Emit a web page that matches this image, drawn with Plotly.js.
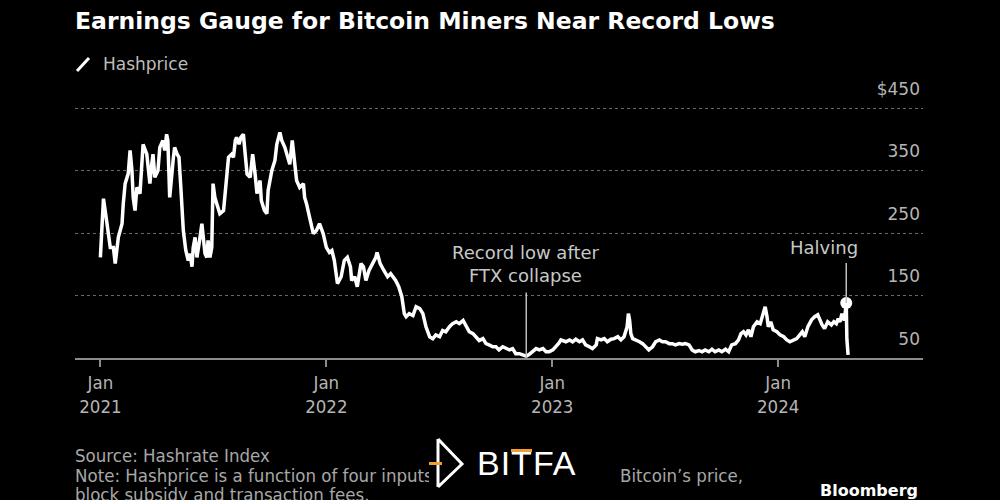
<!DOCTYPE html>
<html>
<head>
<meta charset="utf-8">
<script src="https://cdn.plot.ly/plotly-3.0.1.min.js"></script>
<style>
  html, body { margin: 0; padding: 0; background: #000; }
  #chart { width: 1000px; height: 500px; position: absolute; left: 0; top: 0; }
  #wm { position: absolute; left: 429px; top: 437px; width: 189px; height: 52px; background: #000; }
</style>
</head>
<body>
<div id="chart"></div>
<div id="wm">
  <svg width="189" height="52" xmlns="http://www.w3.org/2000/svg">
    <path d="M9,2 L9,50 M9,2 L33,27 L9,50" stroke="#fff" stroke-width="3" fill="none" stroke-linejoin="miter"/>
    <rect x="0" y="25" width="13" height="3" fill="#f0a030"/>
    <text x="48" y="38" fill="#fff" font-family="Liberation Sans, Arial, sans-serif" font-size="34" letter-spacing="1">BITFA</text>
    <rect x="82" y="12" width="21" height="3" fill="#f0a030"/>
  </svg>
</div>
<script>
const dates = [
 '2021-01-01','2021-01-03','2021-01-06','2021-01-11','2021-01-17','2021-01-22','2021-01-25','2021-01-30',
 '2021-02-05','2021-02-07','2021-02-10','2021-02-15','2021-02-18','2021-02-21','2021-02-23','2021-02-26',
 '2021-03-01','2021-03-06','2021-03-09','2021-03-11','2021-03-17','2021-03-22','2021-03-25','2021-03-27','2021-03-30',
 '2021-04-04','2021-04-07','2021-04-12','2021-04-15','2021-04-18','2021-04-20','2021-04-23','2021-04-29',
 '2021-05-01','2021-05-05','2021-05-08','2021-05-11','2021-05-15','2021-05-19','2021-05-23','2021-05-26','2021-05-29','2021-05-31',
 '2021-06-03','2021-06-06','2021-06-08','2021-06-11','2021-06-14','2021-06-16','2021-06-19','2021-06-22','2021-06-24','2021-06-27','2021-06-30',
 '2021-07-02','2021-07-05','2021-07-08','2021-07-13','2021-07-19','2021-07-21','2021-07-24','2021-07-27',
 '2021-08-01','2021-08-04','2021-08-07','2021-08-09','2021-08-13','2021-08-16','2021-08-20','2021-08-23','2021-08-26','2021-08-31',
 '2021-09-04','2021-09-08','2021-09-11','2021-09-16','2021-09-18','2021-09-23','2021-09-27','2021-09-29',
 '2021-10-05','2021-10-10','2021-10-13','2021-10-18','2021-10-21','2021-10-26','2021-10-31',
 '2021-11-03','2021-11-07','2021-11-11','2021-11-14','2021-11-19','2021-11-25','2021-11-27','2021-11-30',
 '2021-12-05','2021-12-11','2021-12-16','2021-12-21','2021-12-27',
 '2022-01-01','2022-01-06','2022-01-10','2022-01-14','2022-01-19','2022-01-25','2022-01-30',
 '2022-02-04','2022-02-09','2022-02-11','2022-02-16','2022-02-20','2022-02-26',
 '2022-03-02','2022-03-06','2022-03-11','2022-03-16','2022-03-22','2022-03-24','2022-03-29',
 '2022-04-04','2022-04-10','2022-04-15','2022-04-23','2022-04-28',
 '2022-05-03','2022-05-07','2022-05-10','2022-05-15','2022-05-21','2022-05-26',
 '2022-06-01','2022-06-06','2022-06-11','2022-06-17','2022-06-22','2022-06-27',
 '2022-07-03','2022-07-08','2022-07-13','2022-07-19','2022-07-24','2022-07-30',
 '2022-08-04','2022-08-10','2022-08-15','2022-08-20','2022-08-26','2022-08-31',
 '2022-09-05','2022-09-11','2022-09-16','2022-09-21','2022-09-27',
 '2022-10-02','2022-10-07','2022-10-13','2022-10-18','2022-10-24','2022-10-29',
 '2022-11-03','2022-11-09','2022-11-14','2022-11-20','2022-11-25',
 '2022-12-01','2022-12-06','2022-12-11','2022-12-17','2022-12-22','2022-12-27',
 '2023-01-02','2023-01-07','2023-01-12','2023-01-15','2023-01-23','2023-01-29',
 '2023-02-03','2023-02-08','2023-02-14','2023-02-19','2023-02-24',
 '2023-03-02','2023-03-07','2023-03-13','2023-03-15','2023-03-21','2023-03-26','2023-03-31',
 '2023-04-06','2023-04-11','2023-04-17','2023-04-22','2023-04-27',
 '2023-05-02','2023-05-04','2023-05-06','2023-05-08','2023-05-11','2023-05-16','2023-05-22','2023-05-27',
 '2023-06-01','2023-06-06','2023-06-12','2023-06-17','2023-06-23','2023-06-28',
 '2023-07-03','2023-07-09','2023-07-14','2023-07-19','2023-07-25','2023-07-30',
 '2023-08-04','2023-08-10','2023-08-15','2023-08-20','2023-08-26','2023-08-31',
 '2023-09-05','2023-09-11','2023-09-16','2023-09-21','2023-09-27',
 '2023-10-02','2023-10-08','2023-10-13','2023-10-18','2023-10-24','2023-10-29',
 '2023-11-02','2023-11-06','2023-11-10','2023-11-14','2023-11-18','2023-11-22','2023-11-28',
 '2023-12-03','2023-12-07','2023-12-11','2023-12-14','2023-12-16','2023-12-20','2023-12-24','2023-12-30',
 '2024-01-04','2024-01-10','2024-01-15','2024-01-20','2024-01-26','2024-01-31',
 '2024-02-05','2024-02-09','2024-02-13','2024-02-18','2024-02-24','2024-02-29',
 '2024-03-05','2024-03-08','2024-03-12','2024-03-16','2024-03-21','2024-03-27','2024-03-31',
 '2024-04-04','2024-04-07','2024-04-10','2024-04-13','2024-04-17','2024-04-20','2024-04-21','2024-04-23'
];
const hashprice = [
 211,249,305,270,227,227,201,243,
 265,297,329,345,382,350,307,286,
 323,313,360,392,376,329,360,376,339,
 350,387,398,382,408,398,307,371,
 387,376,371,323,254,222,206,217,196,227,
 243,211,222,243,265,243,217,211,238,211,227,
 329,307,297,281,286,307,350,371,
 376,371,398,403,392,403,408,371,344,339,
 376,344,313,334,302,286,281,318,
 350,366,392,411,398,387,371,
 360,398,366,334,323,329,307,297,
 275,249,254,265,249,
 227,219,222,206,169,180,206,
 211,196,174,180,164,201,
 196,174,190,201,211,219,201,
 190,180,185,174,164,
 148,121,116,121,118,132,
 129,121,100,84,81,87,
 84,94,92,100,105,108,
 105,110,102,92,89,84,
 78,81,73,71,68,
 68,63,68,65,63,65,
 57,57,55,53,56,
 60,65,63,65,60,60,
 63,68,74,79,76,79,
 76,80,76,79,71,
 68,65,71,81,79,81,76,
 80,81,84,79,84,
 100,121,111,89,81,79,76,73,
 68,63,68,76,79,76,
 76,73,73,71,73,72,
 73,71,63,60,62,60,
 63,60,64,60,63,
 60,64,60,71,73,79,
 89,92,87,95,84,100,108,
 105,121,132,116,100,108,95,92,
 87,84,79,76,79,81,
 87,92,84,100,111,116,
 119,111,103,97,108,103,108,
 105,113,108,121,110,138,80,55
];
const seriesName = 'Hashprice';
const yTickVals = [50, 150, 250, 350, 450];
const yTickText = ['50', '150', '250', '350', '$450'];
const xTickVals = ['2021-01-01', '2022-01-01', '2023-01-01', '2024-01-01'];
const xTickText = ['Jan<br>2021', 'Jan<br>2022', 'Jan<br>2023', 'Jan<br>2024'];
const eventDates = ['2022-11-20', '2024-04-20'];
const eventLabels = ['Record low after<br>FTX collapse', 'Halving'];
const titleText = 'Earnings Gauge for Bitcoin Miners Near Record Lows';
const sourceText = 'Source: Hashrate Index';
const noteStart = 'Note: Hashprice is a function of four inputs:';
const noteEnd = 'Bitcoin’s price,';
const noteLine2 = 'block subsidy and transaction fees.';

const halvingIdx = dates.indexOf(eventDates[1]);

const REG = 'DejaVu Sans, Verdana, sans-serif';
const COND = 'DejaVu Sans Condensed, Liberation Sans Narrow, DejaVu Sans, sans-serif';

const traces = [
  {
    x: dates, y: hashprice, type: 'scatter', mode: 'lines', name: seriesName,
    line: { color: '#ffffff', width: 3.5 }, hoverinfo: 'x+y', cliponaxis: false
  },
  {
    x: [dates[halvingIdx]], y: [hashprice[halvingIdx]], type: 'scatter', mode: 'markers',
    marker: { color: '#ffffff', size: 12 }, showlegend: false, cliponaxis: false
  }
];

// pixel helpers for paper-positioned text (plot area: x 75..923, y 105..358)
const PL = 75, PW = 848, PB = 358, PH = 253;
const px = v => (v - PL) / PW;
const py = v => (PB - v) / PH;

const layout = {
  width: 1000, height: 500,
  paper_bgcolor: '#000', plot_bgcolor: '#000',
  margin: { l: 75, r: 77, t: 105, b: 142 },
  showlegend: false,
  title: {
    text: titleText, xref: 'container', yref: 'container', x: 0.075, xanchor: 'left',
    y: 0.958, yanchor: 'middle',
    font: { family: REG, size: 23.5, color: '#ffffff', weight: 'bold' }
  },
  xaxis: {
    type: 'date', range: ['2020-11-21', '2024-08-22'],
    tickvals: xTickVals, ticktext: xTickText,
    showgrid: false, zeroline: false,
    showline: true, linecolor: '#8c8c8c', linewidth: 2,
    ticks: 'outside', ticklen: 7, tickwidth: 2, tickcolor: '#8c8c8c',
    tickfont: { family: COND, size: 18.5, color: '#b5b5b5' },
    fixedrange: true
  },
  yaxis: {
    range: [50, 454.8], side: 'right',
    tickvals: yTickVals, ticktext: yTickText,
    ticklabelposition: 'inside', ticklabelshift: -19, ticklabeloverflow: 'allow',
    ticks: '', showline: false, zeroline: false,
    showgrid: true, gridcolor: '#6a6a6a', gridwidth: 1, griddash: 'dot',
    tickfont: { family: REG, size: 17, color: '#b5b5b5' },
    fixedrange: true
  },
  shapes: [
    { type: 'line', xref: 'x', yref: 'y', x0: eventDates[0], x1: eventDates[0], y0: 50, y1: 155,
      line: { color: '#bdbdbd', width: 1.5 } },
    { type: 'line', xref: 'x', yref: 'y', x0: eventDates[1], x1: eventDates[1], y0: hashprice[halvingIdx], y1: 202,
      line: { color: '#bdbdbd', width: 1.5 } },
    { type: 'line', xref: 'paper', yref: 'paper', x0: px(77), x1: px(89), y0: py(71), y1: py(58),
      line: { color: '#ffffff', width: 3 } }
  ],
  annotations: [
    { xref: 'x', yref: 'y', x: eventDates[0], y: 200, text: eventLabels[0], showarrow: false,
      font: { family: REG, size: 18, color: '#c8c8c8' }, align: 'center', xanchor: 'center', yanchor: 'middle' },
    { xref: 'x', yref: 'y', x: eventDates[1], y: 227, text: eventLabels[1], showarrow: false, xshift: -22,
      font: { family: REG, size: 18, color: '#c8c8c8' }, xanchor: 'center', yanchor: 'middle' },
    { xref: 'paper', yref: 'paper', x: px(101), y: py(64), text: seriesName, showarrow: false,
      font: { family: REG, size: 17, color: '#bdbdbd' }, xanchor: 'left', yanchor: 'middle' },
    { xref: 'paper', yref: 'paper', x: px(73), y: py(455), text: sourceText, showarrow: false,
      font: { family: COND, size: 18.5, color: '#a8a8a8' }, xanchor: 'left', yanchor: 'middle' },
    { xref: 'paper', yref: 'paper', x: px(73), y: py(475), text: noteStart, showarrow: false,
      font: { family: COND, size: 18.5, color: '#a8a8a8' }, xanchor: 'left', yanchor: 'middle' },
    { xref: 'paper', yref: 'paper', x: px(618), y: py(475), text: noteEnd, showarrow: false,
      font: { family: COND, size: 18.5, color: '#a8a8a8' }, xanchor: 'left', yanchor: 'middle' },
    { xref: 'paper', yref: 'paper', x: px(73), y: py(494), text: noteLine2, showarrow: false,
      font: { family: COND, size: 18.5, color: '#a8a8a8' }, xanchor: 'left', yanchor: 'middle' },
    { xref: 'paper', yref: 'paper', x: px(920), y: py(490), text: 'Bloomberg', showarrow: false,
      font: { family: REG, size: 16, color: '#ffffff', weight: 'bold' }, xanchor: 'right', yanchor: 'middle' }
  ]
};

Plotly.newPlot('chart', traces, layout, { staticPlot: true, displayModeBar: false });
</script>
</body>
</html>
